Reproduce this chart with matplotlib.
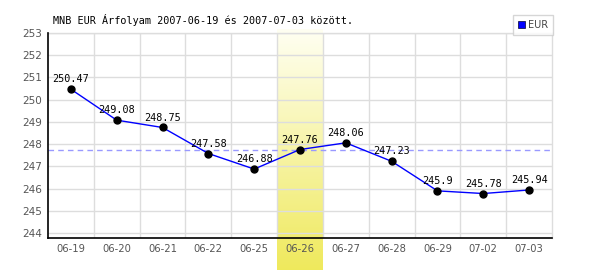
import matplotlib
matplotlib.use("Agg")
import matplotlib.pyplot as plt
import matplotlib.transforms as mtransforms
from matplotlib.patches import Patch
import numpy as np

dates = ["06-19", "06-20", "06-21", "06-22", "06-25", "06-26",
         "06-27", "06-28", "06-29", "07-02", "07-03"]
rates = [250.47, 249.08, 248.75, 247.58, 246.88, 247.76,
         248.06, 247.23, 245.9, 245.78, 245.94]
highlight = "06-26"
ref_value = 247.76
yticks = [244, 245, 246, 247, 248, 249, 250, 251, 252, 253]
title = "MNB EUR Árfolyam 2007-06-19 és 2007-07-03 között."
series_name = "EUR"

W, H = 600, 270
fig = plt.figure(figsize=(W / 100, H / 100), dpi=100)
ax = fig.add_axes([48 / W, 1 - 238 / H, (552 - 48) / W, (238 - 33) / H])

x = np.arange(len(dates))

# highlighted band with vertical gradient
hi = dates.index(highlight)
grad = np.linspace(0, 1, 256).reshape(-1, 1)
top = np.array([1.0, 1.0, 0.95])
bot = np.array([0.937, 0.914, 0.36])
img = top[None, None, :] * (1 - grad[:, :, None]) + bot[None, None, :] * grad[:, :, None]
trans = mtransforms.blended_transform_factory(ax.transData, ax.transAxes)
ax.imshow(img, extent=(hi - 0.5, hi + 0.5, -0.16, 1.015), transform=trans,
          aspect="auto", clip_on=False, zorder=0.5, interpolation="bilinear")
ax.set_xlim(-0.5, len(dates) - 0.5)
ax.set_ylim(243.78, 253)

# grid
for yv in yticks:
    ax.axhline(yv, color="#dddddd", lw=1, zorder=1)
for xv in np.arange(0.5, len(dates) - 0.5, 1):
    ax.axvline(xv, color="#dddddd", lw=1, zorder=1)

ax.axhline(ref_value, color="#9999ff", lw=1, ls=(0, (4, 3)), zorder=2)

ax.plot(x, rates, color="#0000ff", lw=1, zorder=3)
ax.plot(x, rates, "o", color="black", ms=5, zorder=4)
for xi, v in zip(x, rates):
    ax.annotate(f"{v:g}", (xi, v), xytext=(0, 3.5), textcoords="offset points",
                ha="center", va="bottom", fontsize=7.3, family="DejaVu Sans Mono",
                color="black", zorder=5)

ax.set_xticks(x)
ax.set_xticklabels(dates, fontsize=7.2, color="#555555")
ax.set_yticks(yticks)
ax.set_yticklabels([str(t) for t in yticks], fontsize=7.5, color="#555555")
ax.tick_params(length=0, pad=4)
for lbl in ax.get_xticklabels() + ax.get_yticklabels():
    lbl.set_zorder(6)

for s in ["top", "right"]:
    ax.spines[s].set_color("#dddddd")
    ax.spines[s].set_linewidth(1)
for s in ["left", "bottom"]:
    ax.spines[s].set_color("black")
    ax.spines[s].set_linewidth(1.2)
    ax.spines[s].set_zorder(7)
ax.set_facecolor("white")

fig.text(53 / W, 1 - 20 / H, title, fontsize=7.3, family="DejaVu Sans Mono",
         ha="left", va="center", color="black")

leg = fig.legend(handles=[Patch(facecolor="#0000ff", edgecolor="#000033", lw=0.5)],
                 labels=[series_name], loc="upper right",
                 bbox_to_anchor=(553 / W, 1 - 15 / H), fontsize=7,
                 frameon=True, fancybox=False, edgecolor="#cccccc",
                 handlelength=0.7, handleheight=0.7, handletextpad=0.3,
                 borderpad=0.5, borderaxespad=0)
leg.get_frame().set_linewidth(1)
for t in leg.get_texts():
    t.set_color("#444444")

fig.savefig("out.png", dpi=100)
